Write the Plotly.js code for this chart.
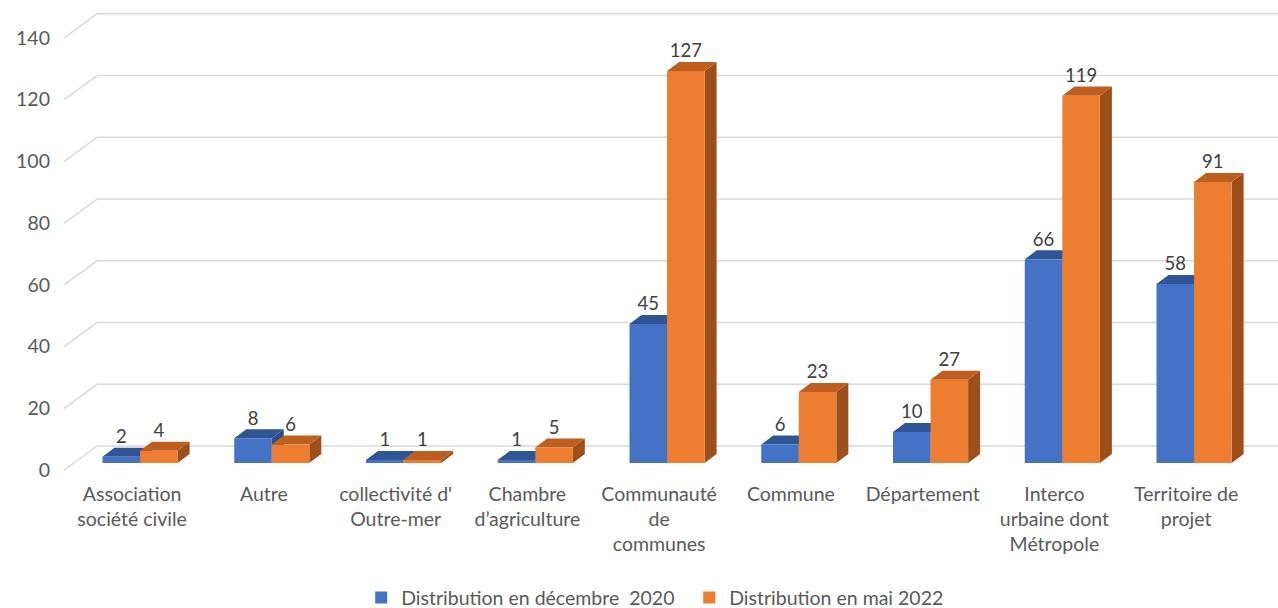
<!DOCTYPE html>
<html><head><meta charset="utf-8">
<script src="https://cdn.plot.ly/plotly-3.0.1.min.js"></script>
<style>html,body{margin:0;padding:0;background:#fff}#chart{width:1278px;height:608px}</style>
</head><body><div id="chart"></div>
<script>
const categories = ["Association<br>société civile","Autre","collectivité d'<br>Outre-mer","Chambre<br>d’agriculture","Communauté<br>de<br>communes","Commune","Département","Interco<br>urbaine dont<br>Métropole","Territoire de<br>projet"];
const seriesNames = ["Distribution en décembre  2020","Distribution en mai 2022"];
const dec2020 = [2,8,1,1,45,6,10,66,58];
const mai2022 = [4,6,1,5,127,23,27,119,91];
const yTicks = [0,20,40,60,80,100,120,140];

const frontCol = ["#4472C4","#ED7D31"], topCol = ["#2F5597","#BE5F1F"], sideCol = ["#2A4C88","#9C4E1B"];
const W = 0.285, DX = 0.091, DY = 2.92, FRONT_OFF = -2.3, BACK_OFF = 5.5;
const XL = -0.577, XB = -0.326, XR = 8.637;
const idx = categories.map((_, i) => i);
const series = [dec2020, mai2022];
const offsets = [-W, 0];

const shapes = [];
yTicks.forEach(v => {
  shapes.push({type:'line', layer:'below', xref:'x', yref:'y', x0:XL, y0:v+FRONT_OFF, x1:XB, y1:v+BACK_OFF, line:{color:'#d9d9d9', width:1.5}});
  shapes.push({type:'line', layer:'below', xref:'x', yref:'y', x0:XB, y0:v+BACK_OFF, x1:XR, y1:v+BACK_OFF, line:{color:'#d9d9d9', width:1.5}});
});
series.forEach((vals, s) => {
  vals.forEach((v, i) => {
    const x0 = i + offsets[s], x1 = x0 + W;
    shapes.push({type:'path', layer:'between', xref:'x', yref:'y',
      path:`M${x1},0 L${x1},${v} L${x1+DX},${v+DY} L${x1+DX},${DY} Z`, fillcolor:sideCol[s], line:{width:0}});
    shapes.push({type:'path', layer:'between', xref:'x', yref:'y',
      path:`M${x0},${v} L${x1},${v} L${x1+DX},${v+DY} L${x0+DX},${v+DY} Z`, fillcolor:topCol[s], line:{width:0}});
  });
});

const traces = series.map((vals, s) => ({
  type:'bar', x:idx, y:vals, name:seriesNames[s], width:W, offset:offsets[s],
  marker:{color:frontCol[s], line:{width:0}}, hovertemplate:'%{y}<extra>'+seriesNames[s]+'</extra>'
}));
series.forEach((vals, s) => {
  traces.push({type:'scatter', mode:'text', x:idx.map(i => i + offsets[s] + W/2), y:vals.map(v => v + DY),
    text:vals.map(String), textposition:'top center', showlegend:false, hoverinfo:'skip',
    textfont:{family:'Lato, sans-serif', size:18.5, color:'#404040'}, cliponaxis:false});
});

const layout = {
  width:1278, height:608, margin:{l:64, r:0, t:5, b:128, autoexpand:false},
  paper_bgcolor:'#fff', plot_bgcolor:'rgba(0,0,0,0)', barmode:'overlay',
  font:{family:'Lato, sans-serif', size:19.5, color:'#595959'},
  xaxis:{range:[XL, XR], tickvals:idx.map(i => i - 0.06), ticktext:categories, showgrid:false, zeroline:false,
    showline:false, ticks:'', tickfont:{size:19.5, color:'#595959'}, fixedrange:true, automargin:false},
  yaxis:{range:[-5.51, 148.36], tickvals:yTicks.map(v => v + FRONT_OFF), ticktext:yTicks.map(String), showgrid:false,
    zeroline:false, showline:false, ticks:'', ticklabelstandoff:13, tickfont:{size:19.5, color:'#595959'}, fixedrange:true, automargin:false},
  legend:{orientation:'h', x:0.515, xanchor:'center', y:-0.248, yanchor:'middle', entrywidth:283, entrywidthmode:'pixels',
    font:{size:19.5, color:'#595959'}},
  shapes:shapes, showlegend:true
};
Plotly.newPlot('chart', traces, layout, {displayModeBar:false});
</script></body></html>
